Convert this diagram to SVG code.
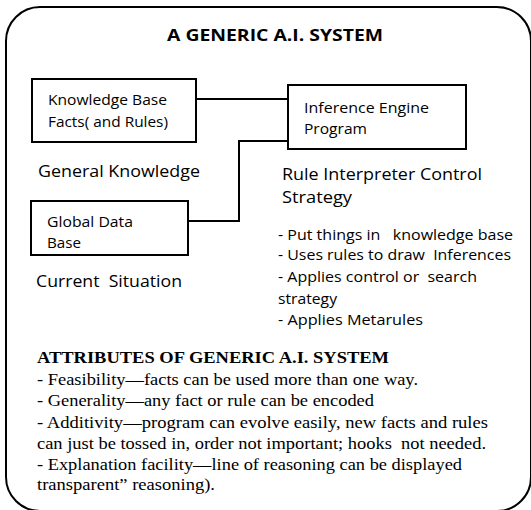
<svg xmlns="http://www.w3.org/2000/svg" width="531" height="510" viewBox="0 0 531 510">
  <style>
    .frame { fill: #ffffff; stroke: #000000; stroke-width: 2; }
    .box { fill: #ffffff; stroke: #000000; stroke-width: 2; }
    .wire { fill: none; stroke: #000000; stroke-width: 2; }
    text { fill: #000000; white-space: pre; }
    .sans { font-family: "Open Sans", "Liberation Sans", sans-serif; }
    .title { font-size: 16px; font-weight: bold; }
    .lbl { font-size: 15px; }
    .cap { font-size: 16.5px; }
    .bul { font-size: 15px; }
    .serif { font-family: "Liberation Serif", "Times New Roman", serif; font-size: 16.5px; }
    .serif-b { font-weight: bold; }
  </style>

  <rect width="531" height="510" fill="#ffffff"/>

  <!-- outer rounded frame -->
  <rect class="frame" x="6" y="7" width="525" height="504" rx="34" ry="34"/>

  <text class="sans title" x="167" y="41" textLength="216" lengthAdjust="spacingAndGlyphs">A GENERIC A.I. SYSTEM</text>

  <!-- connectors -->
  <g id="connectors">
    <path class="wire" d="M196,99 H288"/>
    <path class="wire" d="M188,221 H239 V141 H288"/>
  </g>

  <g id="knowledge-base">
    <rect class="box" x="32" y="79" width="164" height="63"/>
    <text class="sans lbl" x="48" y="105" textLength="119" lengthAdjust="spacingAndGlyphs">Knowledge Base</text>
    <text class="sans lbl" x="48" y="127" textLength="120" lengthAdjust="spacingAndGlyphs">Facts( and Rules)</text>
  </g>

  <g id="inference-engine">
    <rect class="box" x="288" y="85" width="178" height="64"/>
    <text class="sans lbl" x="304" y="113" textLength="125" lengthAdjust="spacingAndGlyphs">Inference Engine</text>
    <text class="sans lbl" x="304" y="134" textLength="63" lengthAdjust="spacingAndGlyphs">Program</text>
  </g>

  <g id="global-data-base">
    <rect class="box" x="31" y="201" width="157" height="54"/>
    <text class="sans lbl" x="47" y="227" textLength="86" lengthAdjust="spacingAndGlyphs">Global Data</text>
    <text class="sans lbl" x="47" y="248" textLength="34" lengthAdjust="spacingAndGlyphs">Base</text>
  </g>

  <g id="captions">
    <text class="sans cap" x="38" y="177" textLength="162" lengthAdjust="spacingAndGlyphs">General Knowledge</text>
    <text class="sans cap" x="36" y="287" textLength="146" lengthAdjust="spacingAndGlyphs">Current  Situation</text>
    <text class="sans cap" x="282" y="180" textLength="200" lengthAdjust="spacingAndGlyphs">Rule Interpreter Control</text>
    <text class="sans cap" x="282" y="203" textLength="70" lengthAdjust="spacingAndGlyphs">Strategy</text>
  </g>

  <g id="engine-duties">
    <text class="sans bul" x="278" y="240" textLength="235" lengthAdjust="spacingAndGlyphs">- Put things in   knowledge base</text>
    <text class="sans bul" x="278" y="260" textLength="233" lengthAdjust="spacingAndGlyphs">- Uses rules to draw  Inferences</text>
    <text class="sans bul" x="278" y="282" textLength="199" lengthAdjust="spacingAndGlyphs">- Applies control or  search</text>
    <text class="sans bul" x="278" y="304" textLength="59" lengthAdjust="spacingAndGlyphs">strategy</text>
    <text class="sans bul" x="278" y="325" textLength="145" lengthAdjust="spacingAndGlyphs">- Applies Metarules</text>
  </g>

  <g id="attributes">
    <text class="serif serif-b" x="37" y="363" textLength="352" lengthAdjust="spacingAndGlyphs">ATTRIBUTES OF GENERIC A.I. SYSTEM</text>
    <text class="serif" x="37" y="385" textLength="381" lengthAdjust="spacingAndGlyphs">- Feasibility—facts can be used more than one way.</text>
    <text class="serif" x="37" y="406" textLength="337" lengthAdjust="spacingAndGlyphs">- Generality—any fact or rule can be encoded</text>
    <text class="serif" x="37" y="428" textLength="451" lengthAdjust="spacingAndGlyphs">- Additivity—program can evolve easily, new facts and rules</text>
    <text class="serif" x="37" y="449" textLength="449" lengthAdjust="spacingAndGlyphs">can just be tossed in, order not important; hooks  not needed.</text>
    <text class="serif" x="37" y="470" textLength="425" lengthAdjust="spacingAndGlyphs">- Explanation facility—line of reasoning can be displayed</text>
    <text class="serif" x="37" y="490" textLength="178" lengthAdjust="spacingAndGlyphs">transparent” reasoning).</text>
  </g>
</svg>
